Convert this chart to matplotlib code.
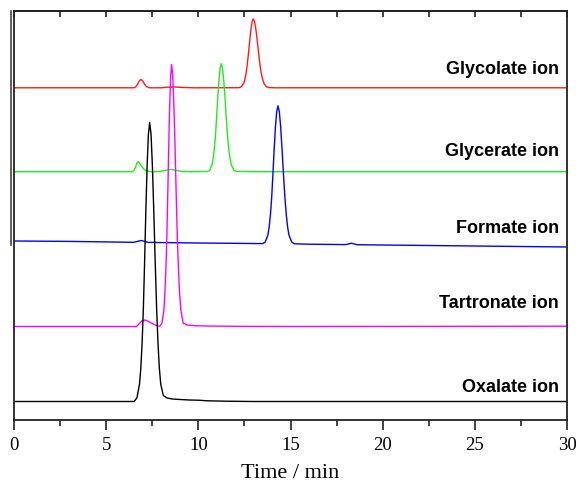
import matplotlib
matplotlib.use("Agg")
import matplotlib.pyplot as plt
from matplotlib.lines import Line2D
from matplotlib.ticker import MultipleLocator

# ---------------- data ----------------
ion_labels = ["Glycolate ion", "Glycerate ion", "Formate ion", "Tartronate ion", "Oxalate ion"]
colors = ["#ff1a1a", "#1aee1a", "#0000ff", "#ff00ff", "#000000"]

# Oxalate ion (black)
t_oxalate = [0, 6.5, 6.535, 6.67, 6.81, 6.88, 6.95, 7.02, 7.085, 7.15, 7.22, 7.29, 7.36,
             7.435, 7.51, 7.585, 7.66, 7.735, 7.81, 7.885, 7.96, 8.1, 8.3, 8.6, 9.0, 9.5,
             10.0, 10.5, 11.5, 13, 30]
s_oxalate = [0, 0, 0.5, 3.7, 17.4, 33.5, 58.6, 94.4, 139.5, 189, 234.6, 267, 279,
             267, 234.6, 189, 139.5, 94.4, 58.6, 33.5, 17.4, 6, 3.5, 2.5, 2.0, 1.5,
             1.3, 0.7, 0.3, 0, 0]

# Tartronate ion (magenta)
t_tartronate = [0, 6.65, 6.8, 6.95, 7.1, 7.25, 7.45, 7.65, 7.85, 7.92, 8.025, 8.13, 8.18,
                8.235, 8.29, 8.34, 8.39, 8.445, 8.50, 8.55, 8.61, 8.675, 8.74, 8.80, 8.86,
                8.925, 8.99, 9.05, 9.175, 9.4, 9.8, 10.5, 12, 15, 30]
s_tartronate = [0, 0, 3, 5.8, 6.5, 5.5, 3.5, 1.5, 0.3, 0.5, 3.4, 16.4, 31.4,
                55.1, 88.7, 131, 177.4, 220.3, 250.9, 262, 250.9, 220.3, 177.4, 131, 88.7,
                55.1, 31.4, 16.4, 3.4, 1.5, 0.8, 0.5, 0.2, 0, 0.3]

# Formate ion (blue) - includes slight baseline drift
t_formate = [0, 3, 6.5, 6.9, 7.3, 10, 13.5, 13.63, 13.77, 13.84, 13.91, 13.98, 14.045,
             14.11, 14.18, 14.25, 14.32, 14.395, 14.47, 14.545, 14.62, 14.695, 14.77,
             14.845, 14.92, 15.07, 15.22, 16, 18.0, 18.3, 18.6, 20, 25, 30]
s_formate = [0, -0.4, -1.3, 0.5, -1.4, -2, -2.6, -1, 5.8, 13.7, 26.2, 43.9, 66.2,
             90.6, 113.2, 129.3, 135.2, 129.3, 113.2, 90.6, 66.2, 43.9, 26.2,
             13.7, 5.7, -1.2, -2.8, -3.2, -3.6, -2.2, -3.7, -4, -5, -6]

# Glycerate ion (green)
t_glycerate = [0, 6.4, 6.5, 6.6, 6.68, 6.74, 6.82, 6.92, 7.05, 7.2, 7.4, 7.9, 8.2, 8.5,
               8.8, 9.1, 9.5, 10.49, 10.615, 10.74, 10.80, 10.865, 10.93, 10.99, 11.05,
               11.115, 11.18, 11.24, 11.31, 11.38, 11.45, 11.515, 11.58, 11.65, 11.72,
               11.79, 11.93, 12.065, 13, 30]
s_glycerate = [0, 0, 1, 5, 9, 10, 8.5, 5.5, 2.5, 0.8, 0, 0.2, 1.2, 2.3,
               1.4, 0.3, 0, 0.2, 1.4, 6.75, 12.9, 22.7, 36.5, 54, 73.1,
               90.8, 103.4, 108, 103.4, 90.8, 73.1, 54, 36.5, 22.7, 12.9,
               6.75, 1.4, 0.3, 0, 0]

# Glycolate ion (red)
t_glycolate = [0, 6.5, 6.6, 6.7, 6.8, 6.89, 6.98, 7.08, 7.2, 7.35, 8.0, 8.3, 8.7, 9.2, 9.8,
               12.2, 12.33, 12.46, 12.525, 12.59, 12.655, 12.72, 12.785, 12.85, 12.915,
               12.98, 13.05, 13.125, 13.2, 13.27, 13.34, 13.415, 13.49, 13.56, 13.705,
               13.85, 14.2, 30]
s_glycolate = [0, 0, 0.8, 3.5, 7, 8.4, 7, 3.5, 1, 0, 0, 0.6, 0.8, 0.3, 0,
               0.1, 0.9, 4.3, 8.3, 14.5, 23.3, 34.5, 46.7, 58, 66.1,
               69, 66.1, 58, 46.7, 34.5, 23.3, 14.5, 8.3, 4.3, 0.9,
               0.2, 0, 0]

times = [t_glycolate, t_glycerate, t_formate, t_tartronate, t_oxalate]
signals = [s_glycolate, s_glycerate, s_formate, s_tartronate, s_oxalate]

x_ticks = [0, 5, 10, 15, 20, 25, 30]
x_label = "Time / min"

# ---------------- layout / style ----------------
offsets = [332.2, 248.3, 179.0, 93.5, 18.5]       # vertical stacking of traces
label_y = [346, 264.3, 186.7, 111.7, 28.3]        # baselines of trace labels
label_x = 29.55

fig = plt.figure(figsize=(5.8, 4.83), dpi=100)
ax = fig.add_axes([14 / 580, 63 / 483, 553 / 580, 409.3 / 483])

for t, s, off, c in zip(times, signals, offsets, colors):
    ax.plot(t, [v + off for v in s], color=c, lw=1.0, solid_joinstyle="round")

for lab, y in zip(ion_labels, label_y):
    ax.text(label_x, y, lab, ha="right", va="baseline",
            fontfamily="Liberation Sans", fontweight="bold", fontsize=13)

ax.set_xlim(0, 30)
ax.set_ylim(0, 409.3)
ax.set_yticks([])
ax.set_xticks(x_ticks)
ax.set_xticklabels([str(v) for v in x_ticks], fontfamily="Liberation Serif", fontsize=13.5)
ax.xaxis.set_minor_locator(MultipleLocator(2.5))
ax.tick_params(axis="x", which="major", direction="out", length=7, width=1.2,
               pad=5.5, colors="#222222", labelcolor="black", top=False)
ax.tick_params(axis="x", which="minor", direction="out", length=4, width=1.2,
               colors="#222222", top=False)
ax.set_xlabel(x_label, fontfamily="Liberation Serif", fontsize=16, labelpad=7)

for sp in ax.spines.values():
    sp.set_linewidth(1.3)
    sp.set_color("#222222")

sec = ax.secondary_xaxis("top")
sec.set_xticks([0, 2.5, 5, 7.5, 10, 12.5, 15, 17.5, 20, 22.5, 25, 27.5, 30])
sec.set_xticklabels([])
sec.tick_params(direction="in", length=4.5, width=1.2, colors="#222222")
sec.spines["top"].set_linewidth(1.3)
sec.spines["top"].set_color("#222222")

# stray vertical line left of the frame (present in the original)
fig.add_artist(Line2D([11 / 580, 11 / 580], [1 - 10.7 / 483, 1 - 245 / 483],
                      color="#444444", lw=1.2))

fig.savefig("out.png", dpi=100)
